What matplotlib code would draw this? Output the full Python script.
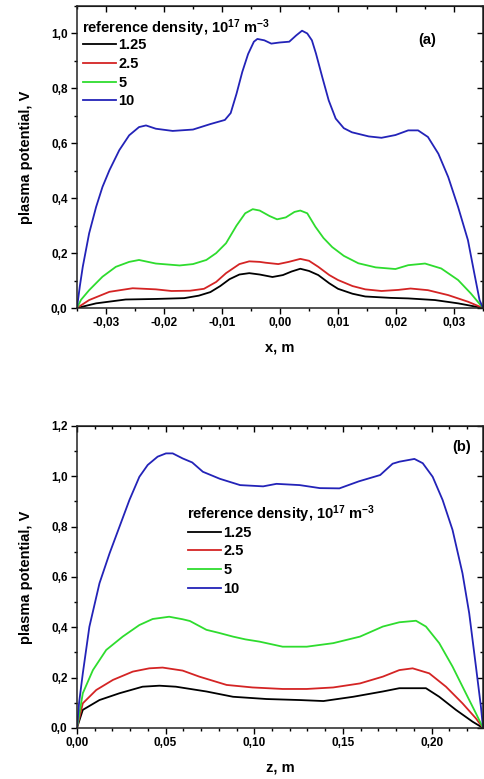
import matplotlib
matplotlib.use('Agg')
import matplotlib.pyplot as plt
from matplotlib.ticker import MultipleLocator, FuncFormatter

# ---- data ----
# panel (a): potential along x
x_a_125 = [-0.035, -0.0317, -0.0266, -0.0214, -0.0165, -0.014, -0.012, -0.0103,
           -0.0087, -0.007, -0.0053, -0.0035, -0.0013, 0.0005, 0.002, 0.0035, 0.005, 0.0066,
           0.0085, 0.01, 0.0125, 0.0147, 0.019, 0.0221, 0.0267, 0.0307, 0.035]
v_a_125 = [0.0, 0.017, 0.031, 0.033, 0.036, 0.045, 0.058, 0.08,
           0.105, 0.122, 0.127, 0.122, 0.113, 0.12, 0.133, 0.143, 0.135, 0.12,
           0.09, 0.07, 0.052, 0.042, 0.037, 0.035, 0.029, 0.017, 0.0]

x_a_25 = [-0.035, -0.0329, -0.0294, -0.0254, -0.0214, -0.0187, -0.0155, -0.0131, -0.011,
          -0.0093, -0.007, -0.0053, -0.0035, -0.0025, -0.0003, 0.0015, 0.0035, 0.005, 0.0066,
          0.0085, 0.01, 0.0125, 0.0147, 0.0175, 0.0204, 0.0225, 0.0255, 0.029, 0.0324, 0.035]
v_a_25 = [0.0, 0.029, 0.059, 0.072, 0.068, 0.062, 0.063, 0.07, 0.095,
          0.127, 0.16, 0.17, 0.168, 0.165, 0.16, 0.168, 0.179, 0.172, 0.15,
          0.12, 0.102, 0.08, 0.068, 0.062, 0.066, 0.071, 0.065, 0.047, 0.023, 0.0]

x_a_5 = [-0.035, -0.0343, -0.0329, -0.0306, -0.0283, -0.026, -0.0243, -0.0214, -0.0173, -0.015,
         -0.0127, -0.011, -0.0093, -0.0075, -0.006, -0.0047, -0.0035, -0.0018, -0.0005, 0.001,
         0.0025, 0.0035, 0.0047, 0.0061, 0.0075, 0.009, 0.011, 0.0135, 0.0165, 0.0199,
         0.0221, 0.025, 0.0278, 0.0307, 0.0329, 0.035]
v_a_5 = [0.0, 0.03, 0.065, 0.114, 0.15, 0.168, 0.175, 0.162, 0.155, 0.16,
         0.175, 0.2, 0.236, 0.3, 0.345, 0.36, 0.355, 0.335, 0.323, 0.33,
         0.35, 0.355, 0.345, 0.296, 0.255, 0.222, 0.19, 0.163, 0.148, 0.142,
         0.156, 0.162, 0.144, 0.102, 0.053, 0.0]

x_a_10 = [-0.035, -0.0345, -0.034, -0.0329, -0.0317, -0.0306, -0.0294, -0.0277, -0.026, -0.0243,
          -0.0231, -0.0214, -0.0185, -0.015, -0.012, -0.0095, -0.0085, -0.0075, -0.0065, -0.0055,
          -0.0045, -0.0039, -0.0027, -0.0015, -0.0001, 0.0016, 0.0028, 0.0038, 0.0047, 0.0055,
          0.0062, 0.0073, 0.0084, 0.0096, 0.011, 0.0124, 0.0153, 0.0175, 0.0199, 0.0221,
          0.0238, 0.0255, 0.0273, 0.029, 0.0307, 0.0324, 0.0335, 0.0344, 0.035]
v_a_10 = [0.0, 0.08, 0.15, 0.272, 0.368, 0.441, 0.502, 0.575, 0.629, 0.659,
          0.665, 0.653, 0.645, 0.65, 0.67, 0.685, 0.71, 0.78, 0.86, 0.925,
          0.97, 0.98, 0.975, 0.963, 0.967, 0.97, 0.993, 1.01, 1.0, 0.975,
          0.927, 0.84, 0.756, 0.69, 0.655, 0.64, 0.625, 0.62, 0.63, 0.647,
          0.647, 0.623, 0.562, 0.477, 0.368, 0.247, 0.126, 0.029, 0.0]

# panel (b): potential along z
z_b_125 = [0.0, 0.0033, 0.0127, 0.024, 0.037, 0.0465, 0.0558, 0.073, 0.088, 0.107,
           0.1256, 0.139, 0.1558, 0.1725, 0.1818, 0.1968, 0.2043, 0.2137, 0.2231, 0.229]
v_b_125 = [0.0, 0.072, 0.111, 0.138, 0.164, 0.168, 0.164, 0.145, 0.124, 0.115,
           0.111, 0.107, 0.124, 0.145, 0.158, 0.158, 0.124, 0.072, 0.025, 0.0]

z_b_25 = [0.0, 0.0033, 0.0109, 0.0203, 0.0315, 0.0408, 0.0483, 0.0596, 0.069, 0.0844,
          0.099, 0.116, 0.1296, 0.1445, 0.1596, 0.1725, 0.1818, 0.1893, 0.1987, 0.2081,
          0.2174, 0.225, 0.229]
v_b_25 = [0.0, 0.098, 0.151, 0.191, 0.224, 0.237, 0.24, 0.228, 0.204, 0.171,
          0.161, 0.155, 0.155, 0.161, 0.177, 0.204, 0.23, 0.237, 0.217, 0.164,
          0.098, 0.038, 0.0]

z_b_5 = [0.0, 0.0033, 0.009, 0.0165, 0.0258, 0.0352, 0.0427, 0.052, 0.0596,
         0.0637, 0.073, 0.08, 0.088, 0.095, 0.103, 0.116, 0.1296, 0.1445, 0.1596, 0.1725,
         0.1818, 0.1912, 0.1968, 0.2043, 0.2118, 0.2193, 0.225, 0.229]
v_b_5 = [0.0, 0.138, 0.23, 0.31, 0.363, 0.409, 0.433, 0.442, 0.432,
         0.425, 0.39, 0.378, 0.363, 0.352, 0.343, 0.323, 0.323, 0.337, 0.363, 0.403,
         0.42, 0.426, 0.403, 0.337, 0.244, 0.138, 0.058, 0.0]

z_b_10 = [0.0, 0.0012, 0.0033, 0.007, 0.0127, 0.0184, 0.024, 0.0296, 0.0352, 0.0399,
          0.0455, 0.0502, 0.054, 0.0596, 0.065, 0.071, 0.0806, 0.092, 0.105, 0.1125,
          0.1256, 0.137, 0.148, 0.159, 0.171, 0.178, 0.1818, 0.1903, 0.195, 0.2006,
          0.2062, 0.2118, 0.2174, 0.2212, 0.225, 0.2278, 0.229]
v_b_10 = [0.0, 0.1, 0.217, 0.402, 0.575, 0.694, 0.8, 0.906, 0.998, 1.045,
          1.078, 1.091, 1.091, 1.071, 1.055, 1.018, 0.99, 0.965, 0.96, 0.97,
          0.965, 0.953, 0.952, 0.98, 1.005, 1.05, 1.058, 1.069, 1.052, 0.998,
          0.906, 0.787, 0.615, 0.456, 0.244, 0.085, 0.0]

labels = ['1.25', '2.5', '5', '10']
colors = ['#000000', '#d42424', '#2edc2e', '#2323b8']

plt.rcParams['font.family'] = ['Liberation Sans', 'DejaVu Sans']
plt.rcParams['font.weight'] = 'bold'
plt.rcParams['mathtext.fontset'] = 'custom'
plt.rcParams['mathtext.rm'] = 'Liberation Sans:bold'
plt.rcParams['mathtext.bf'] = 'Liberation Sans:bold'
plt.rcParams['mathtext.default'] = 'rm'

LEG_TITLE = r'reference density, 10$^{17}$ m$^{-3}$'


def comma_fmt(decimals):
    # Origin style decimal comma
    return FuncFormatter(lambda v, pos: f'{v:.{decimals}f}'.replace('.', ',').replace('-0,00', '0,00'))


def style_axes(ax, xmaj, xmin, xdec, ymaj, ymin, ydec):
    ax.xaxis.set_major_locator(MultipleLocator(xmaj))
    ax.xaxis.set_minor_locator(MultipleLocator(xmin))
    ax.yaxis.set_major_locator(MultipleLocator(ymaj))
    ax.yaxis.set_minor_locator(MultipleLocator(ymin))
    ax.xaxis.set_major_formatter(comma_fmt(xdec))
    ax.yaxis.set_major_formatter(comma_fmt(ydec))
    ax.tick_params(which='both', direction='out', width=1.0, labelsize=8.5, pad=2.5)
    ax.tick_params(which='major', length=4.3)
    ax.tick_params(which='minor', length=2.5)
    for sp in ax.spines.values():
        sp.set_linewidth(1.1)
        sp.set_color('#222222')

    # mirrored ticks pointing inward on top and right
    top = ax.secondary_xaxis('top')
    top.xaxis.set_major_locator(MultipleLocator(xmaj))
    top.xaxis.set_minor_locator(MultipleLocator(xmin))
    top.tick_params(which='both', direction='in', width=1.0, labeltop=False)
    top.tick_params(which='major', length=4.3)
    top.tick_params(which='minor', length=2.5)
    right = ax.secondary_yaxis('right')
    right.yaxis.set_major_locator(MultipleLocator(ymaj))
    right.yaxis.set_minor_locator(MultipleLocator(ymin))
    right.tick_params(which='both', direction='in', width=1.0, labelright=False)
    right.tick_params(which='major', length=4.3)
    right.tick_params(which='minor', length=2.5)


def draw_panel(ax, series, xlim, ylim, xlabel, tag, tag_pos, title_pos, leg_pos):
    for (xs, ys), lab, col in zip(series, labels, colors):
        ax.plot(xs, ys, color=col, lw=1.3, label=lab)
    ax.set_xlim(*xlim)
    ax.set_ylim(*ylim)
    ax.set_xlabel(xlabel, fontsize=10.5, fontweight='bold', labelpad=8)
    ax.set_ylabel('plasma potential, V', fontsize=10.5, fontweight='bold', labelpad=13)
    ax.text(tag_pos[0], tag_pos[1], tag, transform=ax.transAxes, fontsize=10.5,
            fontweight='bold', ha='center', va='center')
    # legend title written separately so it sits close to the entries
    ax.text(title_pos[0], title_pos[1], LEG_TITLE, transform=ax.transAxes, fontsize=10.5,
            fontweight='bold', ha='left', va='baseline')
    ax.legend(loc='upper left', bbox_to_anchor=leg_pos, frameon=False,
              prop={'weight': 'bold', 'size': 10.5},
              handlelength=2.3, handletextpad=0.15, labelspacing=0.32,
              borderpad=0, borderaxespad=0)


fig = plt.figure(figsize=(4.84, 7.79), dpi=100)
ax_a = fig.add_axes([0.159, 0.6046, 0.839, 0.3877])
ax_b = fig.add_axes([0.159, 0.0655, 0.839, 0.3877])

draw_panel(ax_a, [(x_a_125, v_a_125), (x_a_25, v_a_25), (x_a_5, v_a_5), (x_a_10, v_a_10)],
           (-0.035, 0.035), (0, 1.1), 'x, m', '(a)', (0.862, 0.887),
           (0.013, 0.911), (0.014, 0.893))
style_axes(ax_a, 0.01, 0.005, 2, 0.2, 0.1, 1)

draw_panel(ax_b, [(z_b_125, v_b_125), (z_b_25, v_b_25), (z_b_5, v_b_5), (z_b_10, v_b_10)],
           (0, 0.229), (0, 1.2), 'z, m', '(b)', (0.948, 0.930),
           (0.271, 0.693), (0.273, 0.670))
style_axes(ax_b, 0.05, 0.01, 2, 0.2, 0.1, 1)

fig.savefig('out.png', dpi=100)
